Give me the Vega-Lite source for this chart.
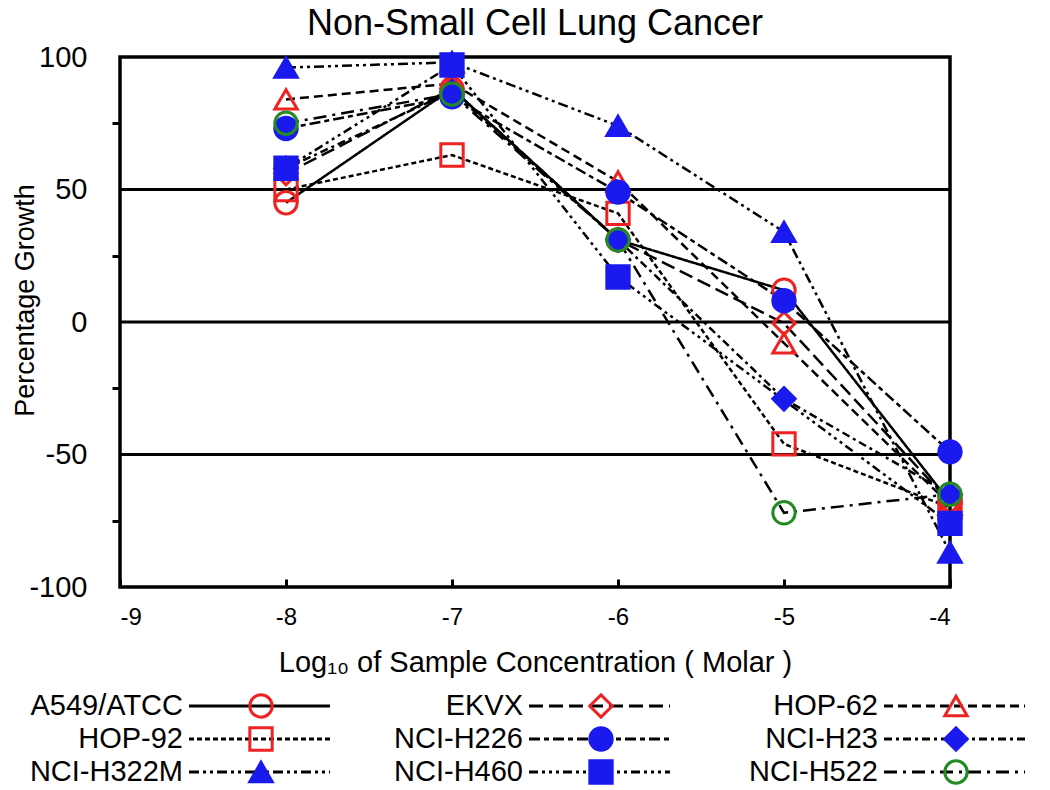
{
  "$schema": "https://vega.github.io/schema/vega-lite/v6.json",
  "width": 830,
  "height": 530,
  "autosize": {"type": "none"},
  "padding": {"left": 120, "top": 57, "right": 100, "bottom": 203},
  "background": "white",
  "title": {"text": "Non-Small Cell Lung Cancer", "fontSize": 36, "font": "Liberation Sans", "fontWeight": "normal", "color": "black", "anchor": "middle", "offset": 0},
  "config": {
    "font": "Liberation Sans",
    "view": {"stroke": "black", "strokeWidth": 3.5},
    "axis": {"labelFont": "Liberation Sans", "titleFont": "Liberation Sans", "labelColor": "black", "titleColor": "black", "titleFontWeight": "normal", "tickColor": "black", "tickWidth": 3, "domain": false, "grid": false}
  },
  "resolve": {"scale": {"x": "independent", "y": "independent"}},
  "layer": [
    {
      "data": {"values": [
        {"series": "A549/ATCC", "conc": -8, "growth": 45},
        {"series": "A549/ATCC", "conc": -7, "growth": 88},
        {"series": "A549/ATCC", "conc": -6, "growth": 31},
        {"series": "A549/ATCC", "conc": -5, "growth": 12},
        {"series": "A549/ATCC", "conc": -4, "growth": -68},
        {"series": "EKVX", "conc": -8, "growth": 56},
        {"series": "EKVX", "conc": -7, "growth": 88},
        {"series": "EKVX", "conc": -6, "growth": 31},
        {"series": "EKVX", "conc": -5, "growth": -0.5},
        {"series": "EKVX", "conc": -4, "growth": -68},
        {"series": "HOP-62", "conc": -8, "growth": 84},
        {"series": "HOP-62", "conc": -7, "growth": 90},
        {"series": "HOP-62", "conc": -6, "growth": 53},
        {"series": "HOP-62", "conc": -5, "growth": -8},
        {"series": "HOP-62", "conc": -4, "growth": -69},
        {"series": "HOP-92", "conc": -8, "growth": 50},
        {"series": "HOP-92", "conc": -7, "growth": 63},
        {"series": "HOP-92", "conc": -6, "growth": 41},
        {"series": "HOP-92", "conc": -5, "growth": -46},
        {"series": "HOP-92", "conc": -4, "growth": -70},
        {"series": "NCI-H226", "conc": -8, "growth": 73},
        {"series": "NCI-H226", "conc": -7, "growth": 85},
        {"series": "NCI-H226", "conc": -6, "growth": 49},
        {"series": "NCI-H226", "conc": -5, "growth": 8},
        {"series": "NCI-H226", "conc": -4, "growth": -49},
        {"series": "NCI-H23", "conc": -8, "growth": 58},
        {"series": "NCI-H23", "conc": -7, "growth": 87},
        {"series": "NCI-H23", "conc": -6, "growth": 31},
        {"series": "NCI-H23", "conc": -5, "growth": -29},
        {"series": "NCI-H23", "conc": -4, "growth": -65},
        {"series": "NCI-H322M", "conc": -8, "growth": 96},
        {"series": "NCI-H322M", "conc": -7, "growth": 98},
        {"series": "NCI-H322M", "conc": -6, "growth": 74},
        {"series": "NCI-H322M", "conc": -5, "growth": 34},
        {"series": "NCI-H322M", "conc": -4, "growth": -87},
        {"series": "NCI-H460", "conc": -8, "growth": 58},
        {"series": "NCI-H460", "conc": -7, "growth": 97},
        {"series": "NCI-H460", "conc": -6, "growth": 17},
        {"series": "NCI-H460", "conc": -4, "growth": -76},
        {"series": "NCI-H522", "conc": -8, "growth": 75},
        {"series": "NCI-H522", "conc": -7, "growth": 86},
        {"series": "NCI-H522", "conc": -6, "growth": 31},
        {"series": "NCI-H522", "conc": -5, "growth": -72},
        {"series": "NCI-H522", "conc": -4, "growth": -65}
      ]},
      "layer": [
        {
          "data": {"values": [{"ref": 50}, {"ref": 0}, {"ref": -50}]},
          "mark": {"type": "rule", "color": "black", "strokeWidth": 3},
          "encoding": {
            "y": {"field": "ref", "type": "quantitative", "title": "Percentage Growth",
              "scale": {"domain": [-100, 100], "nice": false},
              "axis": {"values": [-100, -75, -50, -25, 0, 25, 50, 75, 100], "labelExpr": "datum.value % 50 === 0 ? '' + datum.value : ''", "labelFontSize": 29, "tickSize": 8, "labelPadding": 25,
                "tickOpacity": {"condition": {"test": "datum.value % 50 === 0", "value": 0}, "value": 1},
                "titleFontSize": 27, "titleX": -95, "titleY": 243, "titleBaseline": "middle", "titleAngle": 270}}
          }
        },
        {
          "mark": {"type": "line", "color": "black", "strokeWidth": 2.5},
          "encoding": {
            "x": {"field": "conc", "type": "quantitative", "title": "Log₁₀ of Sample Concentration ( Molar )",
              "scale": {"domain": [-9, -4], "nice": false, "zero": false},
              "axis": {"values": [-9, -8, -7, -6, -5, -4], "labelExpr": "'' + datum.value", "labelFontSize": 24, "offset": -8, "tickSize": 8, "labelPadding": 18, "titleFontSize": 29, "titlePadding": 19}},
            "y": {"field": "growth", "type": "quantitative", "title": "Percentage Growth",
              "scale": {"domain": [-100, 100], "nice": false},
              "axis": {"values": [-100, -75, -50, -25, 0, 25, 50, 75, 100], "labelExpr": "datum.value % 50 === 0 ? '' + datum.value : ''", "labelFontSize": 29, "tickSize": 8, "labelPadding": 25,
                "tickOpacity": {"condition": {"test": "datum.value % 50 === 0", "value": 0}, "value": 1},
                "titleFontSize": 27, "titleX": -95, "titleY": 243, "titleBaseline": "middle", "titleAngle": 270}},
            "strokeDash": {"field": "series", "type": "nominal", "legend": null,
              "scale": {"domain": ["A549/ATCC", "EKVX", "HOP-62", "HOP-92", "NCI-H226", "NCI-H23", "NCI-H322M", "NCI-H460", "NCI-H522"],
                "range": [[1, 0], [14, 6], [9, 5], [5, 3], [11, 4, 5, 4], [8, 4, 3, 4], [10, 4, 3, 4, 3, 4], [9, 4, 3, 4, 3, 4, 3, 4], [13, 6, 3, 6]]}}
          }
        },
        {
          "mark": {"type": "point", "size": 500, "strokeWidth": 3, "opacity": 1},
          "encoding": {
            "x": {"field": "conc", "type": "quantitative", "title": "Log₁₀ of Sample Concentration ( Molar )"},
            "y": {"field": "growth", "type": "quantitative", "title": "Percentage Growth"},
            "shape": {"field": "series", "type": "nominal", "legend": null,
              "scale": {"domain": ["A549/ATCC", "EKVX", "HOP-62", "HOP-92", "NCI-H226", "NCI-H23", "NCI-H322M", "NCI-H460", "NCI-H522"],
                "range": ["circle", "diamond", "triangle-up", "square", "circle", "diamond", "triangle-up", "square", "circle"]}},
            "stroke": {"field": "series", "type": "nominal", "legend": null,
              "scale": {"domain": ["A549/ATCC", "EKVX", "HOP-62", "HOP-92", "NCI-H226", "NCI-H23", "NCI-H322M", "NCI-H460", "NCI-H522"],
                "range": ["#ee2222", "#ee2222", "#ee2222", "#ee2222", "#1a1aee", "#1a1aee", "#1a1aee", "#1a1aee", "#228b22"]}},
            "fill": {"field": "series", "type": "nominal", "legend": null,
              "scale": {"domain": ["A549/ATCC", "EKVX", "HOP-62", "HOP-92", "NCI-H226", "NCI-H23", "NCI-H322M", "NCI-H460", "NCI-H522"],
                "range": ["transparent", "transparent", "transparent", "transparent", "#1a1aee", "#1a1aee", "#1a1aee", "#1a1aee", "transparent"]}}
          }
        }
      ]
    },
    {
      "data": {"values": [
        {"series": "A549/ATCC", "col": 0, "row": 0},
        {"series": "EKVX", "col": 1, "row": 0},
        {"series": "HOP-62", "col": 2, "row": 0},
        {"series": "HOP-92", "col": 0, "row": 1},
        {"series": "NCI-H226", "col": 1, "row": 1},
        {"series": "NCI-H23", "col": 2, "row": 1},
        {"series": "NCI-H322M", "col": 0, "row": 2},
        {"series": "NCI-H460", "col": 1, "row": 2},
        {"series": "NCI-H522", "col": 2, "row": 2}
      ]},
      "layer": [
        {
          "mark": {"type": "rule", "color": "black", "strokeWidth": 3, "xOffset": 4, "x2Offset": 145},
          "encoding": {
            "x": {"field": "col", "type": "quantitative", "axis": null, "scale": {"domain": [0, 1, 2], "range": [65, 405, 760], "nice": false, "zero": false}},
            "x2": {"field": "col"},
            "y": {"field": "row", "type": "quantitative", "axis": null, "scale": {"domain": [0, 2], "range": [649, 715], "nice": false, "zero": false}},
            "strokeDash": {"field": "series", "type": "nominal", "legend": null}
          }
        },
        {
          "mark": {"type": "text", "align": "right", "baseline": "middle", "fontSize": 29, "dx": -2, "color": "black", "font": "Liberation Sans"},
          "encoding": {
            "x": {"field": "col", "type": "quantitative"},
            "y": {"field": "row", "type": "quantitative"},
            "text": {"field": "series"}
          }
        },
        {
          "mark": {"type": "point", "size": 500, "strokeWidth": 3, "opacity": 1, "xOffset": 76},
          "encoding": {
            "x": {"field": "col", "type": "quantitative"},
            "y": {"field": "row", "type": "quantitative"},
            "shape": {"field": "series", "type": "nominal", "legend": null},
            "stroke": {"field": "series", "type": "nominal", "legend": null},
            "fill": {"field": "series", "type": "nominal", "legend": null}
          }
        }
      ]
    }
  ]
}
